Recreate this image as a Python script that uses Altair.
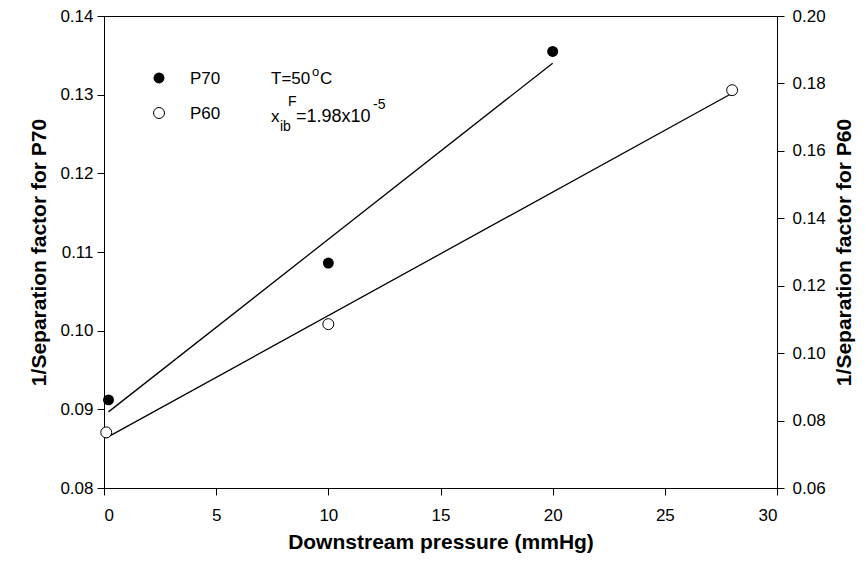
import altair as alt
import pandas as pd

# ---- data ----
pressure_p70 = [0.2, 10, 20]
inv_sep_p70 = [0.0912, 0.1086, 0.1355]
pressure_p60 = [0.1, 10, 28]
inv_sep_p60 = [0.0765, 0.1086, 0.178]

x_ticks = [0, 5, 10, 15, 20, 25, 30]
left_ticks = [0.08, 0.09, 0.10, 0.11, 0.12, 0.13, 0.14]
right_ticks = [0.06, 0.08, 0.10, 0.12, 0.14, 0.16, 0.18, 0.20]

series_names = ["P70", "P60"]
note_temp = ["T=50", "o", "C"]
note_conc = ["x", "ib", "F", "=1.98x10", "-5"]

FONT = "Liberation Sans"
W, H = 673, 472

df70 = pd.DataFrame({"p": pressure_p70, "v": inv_sep_p70})
df60 = pd.DataFrame({"p": pressure_p60, "v": inv_sep_p60})

x_enc = alt.X(
    "p:Q",
    scale=alt.Scale(domain=[0, 30], nice=False),
    axis=alt.Axis(values=x_ticks, format="d", title="Downstream pressure (mmHg)",
                  titlePadding=8, labelPadding=12),
)

y_left = alt.Y(
    "v:Q",
    scale=alt.Scale(domain=[0.08, 0.14], nice=False, zero=False),
    axis=alt.Axis(orient="left", values=left_ticks, format=".2f",
                  title="1/Separation factor for P70", titlePadding=10, labelPadding=4),
)
y_right = alt.Y(
    "v:Q",
    scale=alt.Scale(domain=[0.06, 0.20], nice=False, zero=False),
    axis=alt.Axis(orient="right", values=right_ticks, format=".2f",
                  title="1/Separation factor for P60", titleAngle=270,
                  titleBaseline="top", titlePadding=8, labelPadding=8),
)

line70 = alt.Chart(df70).transform_regression("p", "v").mark_line(
    color="black", strokeWidth=1.3).encode(x=x_enc, y=y_left)
pts70 = alt.Chart(df70).mark_point(
    filled=True, color="black", size=120, opacity=1).encode(x=x_enc, y=y_left)

line60 = alt.Chart(df60).transform_regression("p", "v").mark_line(
    color="black", strokeWidth=1.3).encode(x=x_enc, y=y_right)
pts60 = alt.Chart(df60).mark_point(
    filled=True, fill="white", stroke="black", strokeWidth=1, size=120, opacity=1
).encode(x=x_enc, y=y_right)

left = alt.layer(line70, pts70)
right = alt.layer(line60, pts60)


def txt(s, x, y, size=17, align="left"):
    return alt.Chart(pd.DataFrame({"t": [s]})).mark_text(
        font=FONT, fontSize=size, align=align, baseline="alphabetic", color="black"
    ).encode(x=alt.value(x), y=alt.value(y), text="t:N")


leg_df = pd.DataFrame({"name": series_names})
leg_filled = alt.Chart(leg_df.iloc[[0]]).mark_point(
    filled=True, color="black", size=120, opacity=1
).encode(x=alt.value(55), y=alt.value(62))
leg_open = alt.Chart(leg_df.iloc[[1]]).mark_point(
    filled=True, fill="white", stroke="black", strokeWidth=1, size=120, opacity=1
).encode(x=alt.value(55), y=alt.value(97))

legend = [
    leg_filled, leg_open,
    txt(series_names[0], 86, 68),
    txt(series_names[1], 86, 103),
    txt(note_temp[0], 167, 68),
    txt(note_temp[1], 208, 60, size=13),
    txt(note_temp[2], 216, 68),
    txt(note_conc[0], 167, 106),
    txt(note_conc[1], 176, 115, size=14),
    txt(note_conc[2], 184, 90, size=14),
    txt(note_conc[3], 192, 106, size=18),
    txt(note_conc[4], 269, 93, size=14),
]

chart = alt.layer(left, right, *legend).resolve_scale(y="independent").properties(
    width=W, height=H,
    autosize=alt.AutoSizeParams(type="none"),
    padding={"left": 96, "top": 8, "right": 81, "bottom": 68},
).configure_view(stroke="black", strokeWidth=1).configure_axis(
    grid=False, domainColor="black", tickColor="black", tickSize=7,
    labelFont=FONT, labelFontSize=17, labelColor="black",
    titleFont=FONT, titleFontSize=21, titleFontWeight="bold", titleColor="black",
    domainWidth=1, tickWidth=1,
)

chart.save("out.html", embed_options={"renderer": "svg", "actions": False})
